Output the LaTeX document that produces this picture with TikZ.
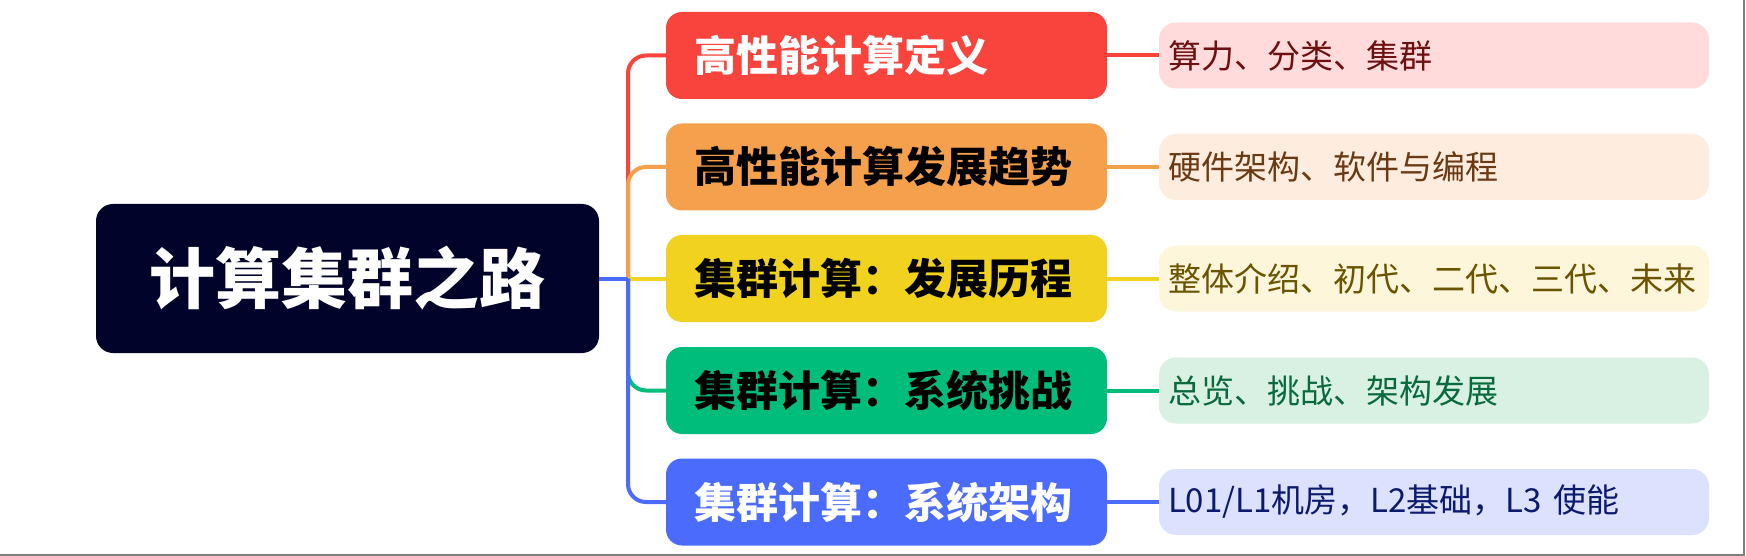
\documentclass[tikz,border=0pt]{standalone}
\usepackage{fontspec}
\setmainfont{Noto Sans CJK SC}
\definecolor{rootc}{HTML}{02032A}
\definecolor{cred}{HTML}{F9443E}
\definecolor{corange}{HTML}{F5A04C}
\definecolor{cyellow}{HTML}{F1D21F}
\definecolor{cgreen}{HTML}{00BD7C}
\definecolor{cblue}{HTML}{4A6BFC}
\definecolor{fred}{HTML}{FFDBDB}
\definecolor{forange}{HTML}{FEEDDF}
\definecolor{fyellow}{HTML}{FEF6DA}
\definecolor{fgreen}{HTML}{D8F1E3}
\definecolor{fblue}{HTML}{DCE1FD}
\definecolor{tred}{HTML}{6E1010}
\definecolor{torange}{HTML}{6B3A14}
\definecolor{tyellow}{HTML}{6B5400}
\definecolor{tgreen}{HTML}{0A6A3C}
\definecolor{tblue}{HTML}{0B1A6E}
\definecolor{edgegray}{HTML}{7F7F7F}
\begin{document}
\begin{tikzpicture}[x=1pt,y=-1pt,
  rootbox/.style={fill=rootc, rounded corners=17pt, minimum width=503pt, minimum height=149pt, inner sep=0pt, text=white, font=\fontsize{66}{72}\selectfont\bfseries},
  mainbox/.style={rounded corners=16pt, minimum height=87pt, text width=385pt, inner xsep=28pt, inner ysep=0pt, align=left, font=\fontsize{42}{48}\selectfont\bfseries},
  subbox/.style={rounded corners=17pt, minimum height=66pt, text width=532pt, inner xsep=9pt, inner ysep=0pt, align=left, font=\fontsize{33}{38}\selectfont},
  link/.style={line width=4pt},
  branch/.style={line width=4pt, rounded corners=18pt}
]
\useasboundingbox (0,0) rectangle (1746,556);
\fill[white] (0,0) rectangle (1746,556);

\node[rootbox] (root) at (347.5,278.5) {计算集群之路};
\coordinate (hub) at (628,278.5);

\node[mainbox, fill=cred, text=white] (m1) at (886.5,55.5) {高性能计算定义};
\node[mainbox, fill=corange, text=black] (m2) at (886.5,167) {高性能计算发展趋势};
\node[mainbox, fill=cyellow, text=black] (m3) at (886.5,278.5) {集群计算：发展历程};
\node[mainbox, fill=cgreen, text=black] (m4) at (886.5,390.5) {集群计算：系统挑战};
\node[mainbox, fill=cblue, text=white] (m5) at (886.5,502) {集群计算：系统架构};

\node[subbox, fill=fred, text=tred] (s1) at (1434,55.5) {算力、分类、集群};
\node[subbox, fill=forange, text=torange] (s2) at (1434,167) {硬件架构、软件与编程};
\node[subbox, fill=fyellow, text=tyellow] (s3) at (1434,278.5) {整体介绍、初代、二代、三代、未来};
\node[subbox, fill=fgreen, text=tgreen] (s4) at (1434,390.5) {总览、挑战、架构发展};
\node[subbox, fill=fblue, text=tblue] (s5) at (1434,502) {L01/L1机房，L2基础，L3 使能};

\draw[branch, cred] (hub) |- (m1.west);
\draw[branch, corange] (hub) |- (m2.west);
\draw[link, cyellow] (hub) -- (m3.west);
\draw[branch, cgreen] (hub) |- (m4.west);
\draw[branch, cblue] (hub) |- (m5.west);
\draw[link, cblue] (root.east) -- (hub);

\draw[link, cred] (m1.east) -- (s1.west);
\draw[link, corange] (m2.east) -- (s2.west);
\draw[link, cyellow] (m3.east) -- (s3.west);
\draw[link, cgreen] (m4.east) -- (s4.west);
\draw[link, cblue] (m5.east) -- (s5.west);

\draw[edgegray, line width=1.5pt] (0,555.2) -- (1744,555.2) -- (1744,0);
\end{tikzpicture}
\end{document}
